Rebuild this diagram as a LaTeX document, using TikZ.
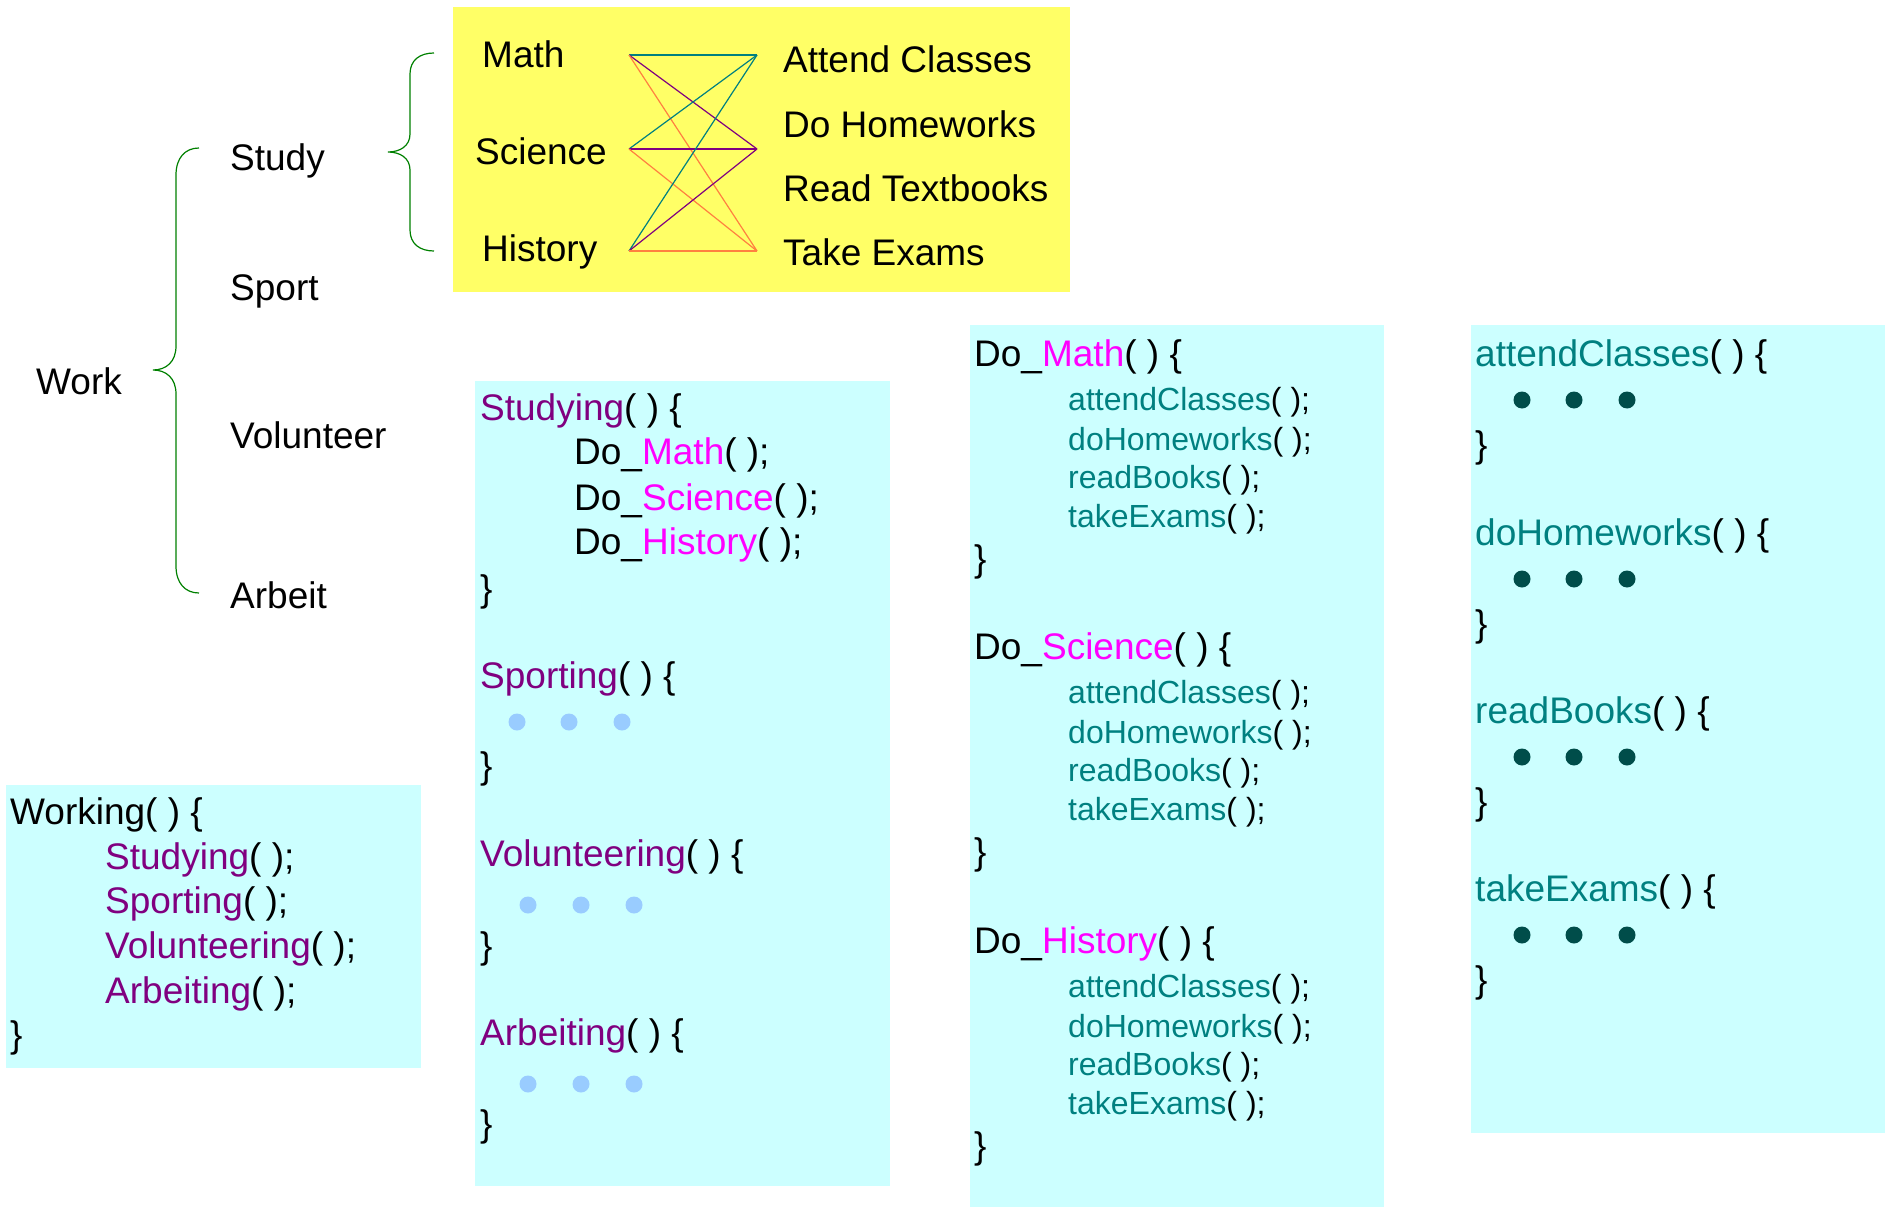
\documentclass[tikz,border=0pt]{standalone}
\usepackage{fontspec}
\setmainfont{Liberation Sans}

\definecolor{padyellow}{HTML}{FFFF66}
\definecolor{codecyan}{HTML}{CCFFFF}
\definecolor{fnpurple}{HTML}{800080}
\definecolor{subjmag}{HTML}{FF00FF}
\definecolor{taskteal}{HTML}{008080}
\definecolor{dotlight}{HTML}{99CCFF}
\definecolor{dotdark}{HTML}{004D4A}
\definecolor{bracegreen}{HTML}{008000}
\definecolor{linkorange}{HTML}{FF8040}

\newcommand{\fnopen}{( ) \{}
\newcommand{\fncall}{( );}

\tikzset{
  lbl/.style={anchor=base west,inner sep=0pt,font=\fontsize{37}{44}\selectfont},
  callline/.style={lbl,font=\fontsize{32}{38}\selectfont},
  codebox/.style={fill=codecyan},
  subjbrace/.style={draw=bracegreen,line width=1.2pt},
  dotl/.style={circle,fill=dotlight,minimum size=17pt,inner sep=0pt},
  dotd/.style={circle,fill=dotdark,minimum size=17pt,inner sep=0pt},
}

\begin{document}
\begin{tikzpicture}[x=1pt,y=-1pt]
\useasboundingbox (0,0) rectangle (1890,1207);

% backgrounds
\fill[padyellow] (453,7) rectangle (1070,292);
\fill[codebox] (6,785) rectangle (421,1068);
\fill[codebox] (475,381) rectangle (890,1186);
\fill[codebox] (970,325) rectangle (1384,1207);
\fill[codebox] (1471,325) rectangle (1885,1133);

% tree
\node[lbl] (work) at (36,394) {Work};
\node[lbl] (study) at (230,170) {Study};
\node[lbl] (sport) at (230,300) {Sport};
\node[lbl] (volunteer) at (230,448) {Volunteer};
\node[lbl] (arbeit) at (230,608) {Arbeit};
\draw[subjbrace] (199,148) .. controls (185,148) and (176,158) .. (176,175)
  -- (176,346) .. controls (176,362) and (166,370) .. (153,370)
  .. controls (166,370) and (176,378) .. (176,394)
  -- (176,566) .. controls (176,583) and (185,593) .. (199,593);
\draw[subjbrace] (434,53) .. controls (420,53) and (410,60) .. (410,74)
  -- (410,134) .. controls (410,146) and (400,152) .. (388,152)
  .. controls (400,152) and (410,158) .. (410,170)
  -- (410,230) .. controls (410,244) and (420,251) .. (434,251);

% subjects and tasks
\node[lbl] (math) at (482,67) {Math};
\node[lbl] (science) at (475,164) {Science};
\node[lbl] (history) at (482,261) {History};
\node[lbl] (attend) at (783,73) {Attend Classes};
\node[lbl] (homework) at (783,137) {Do Homeworks};
\node[lbl] (read) at (783,201) {Read Textbooks};
\node[lbl] (exams) at (783,265) {Take Exams};

\coordinate (s1) at (629,55);
\coordinate (s2) at (629,149);
\coordinate (s3) at (629,251);
\coordinate (t1) at (757,55);
\coordinate (t2) at (757,149);
\coordinate (t3) at (757,251);
\foreach \s in {1,2,3}{
  \draw[taskteal,line width=1.2pt] (s\s) -- (t1);
  \draw[fnpurple,line width=1.2pt] (s\s) -- (t2);
  \draw[linkorange,line width=1.2pt] (s\s) -- (t3);
}

% Working
\node[lbl] (working) at (10,824) {Working\fnopen};
\node[lbl] (c1) at (105,869) {\textcolor{fnpurple}{Studying}\fncall};
\node[lbl] (c2) at (105,913) {\textcolor{fnpurple}{Sporting}\fncall};
\node[lbl] (c3) at (105,958) {\textcolor{fnpurple}{Volunteering}\fncall};
\node[lbl] (c4) at (105,1003) {\textcolor{fnpurple}{Arbeiting}\fncall};
\node[lbl] (cend) at (10,1047) {\}};

% Studying, Sporting, Volunteering, Arbeiting
\node[lbl] (studying) at (480,420) {\textcolor{fnpurple}{Studying}\fnopen};
\node[lbl] (d1) at (574,464) {Do\_\textcolor{subjmag}{Math}\fncall};
\node[lbl] (d2) at (574,510) {Do\_\textcolor{subjmag}{Science}\fncall};
\node[lbl] (d3) at (574,554) {Do\_\textcolor{subjmag}{History}\fncall};
\node[lbl] (dend) at (480,601) {\}};

\node[lbl] (sporting) at (480,688) {\textcolor{fnpurple}{Sporting}\fnopen};
\foreach \x in {517,569,622} \node[dotl] at (\x,722) {};
\node[lbl] (spend) at (480,778) {\}};

\node[lbl] (volunteering) at (480,866) {\textcolor{fnpurple}{Volunteering}\fnopen};
\foreach \x in {528,581,634} \node[dotl] at (\x,905) {};
\node[lbl] (vend) at (480,958) {\}};

\node[lbl] (arbeiting) at (480,1045) {\textcolor{fnpurple}{Arbeiting}\fnopen};
\foreach \x in {528,581,634} \node[dotl] at (\x,1084) {};
\node[lbl] (aend) at (480,1136) {\}};

% Do_ subjects
\foreach \subj/\y/\nm in {Math/366/domath,Science/659/doscience,History/953/dohistory}{
  \node[lbl] (\nm) at (974,\y) {Do\_\textcolor{subjmag}{\subj}\fnopen};
  \node[callline] (\nm-a) at (1068,\y+44) {\textcolor{taskteal}{attendClasses}\fncall};
  \node[callline] (\nm-b) at (1068,\y+84) {\textcolor{taskteal}{doHomeworks}\fncall};
  \node[callline] (\nm-c) at (1068,\y+122) {\textcolor{taskteal}{readBooks}\fncall};
  \node[callline] (\nm-d) at (1068,\y+161) {\textcolor{taskteal}{takeExams}\fncall};
  \node[lbl] (\nm-end) at (974,\y+205) {\}};
}

% tasks
\foreach \task/\y/\nm in {attendClasses/366/ac,doHomeworks/545/dh,readBooks/723/rb,takeExams/901/te}{
  \node[lbl] (\nm) at (1475,\y) {\textcolor{taskteal}{\task}\fnopen};
  \foreach \x in {1522,1574,1627} \node[dotd] at (\x,\y+34) {};
  \node[lbl] (\nm-end) at (1475,\y+91) {\}};
}

\end{tikzpicture}
\end{document}
